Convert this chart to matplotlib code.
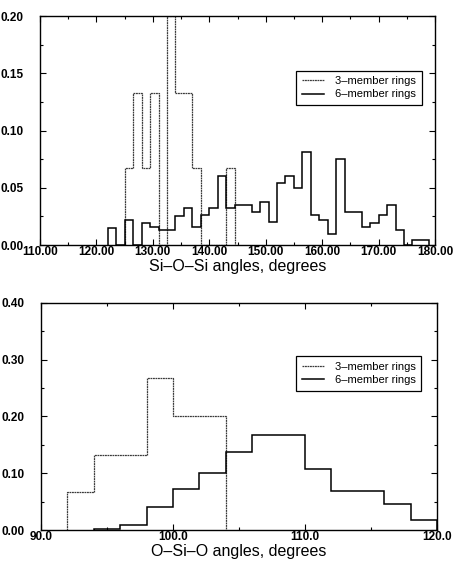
import numpy as np
import matplotlib
matplotlib.use("Agg")
import matplotlib.pyplot as plt
from matplotlib.ticker import MultipleLocator, FormatStrFormatter

plt.rcParams['font.family'] = ['Liberation Sans', 'DejaVu Sans']

# Si-O-Si angle histograms (bin width 1.5 deg)
sio_si_edges3 = np.arange(125.0, 144.5 + 0.01, 1.5)
sio_si_three = [0.067, 0.133, 0.067, 0.133, 0.0, 0.200, 0.133, 0.133, 0.067,
                0.0, 0.0, 0.0, 0.067]
sio_si_edges6 = np.arange(122.0, 179.0 + 0.01, 1.5)
sio_si_six = [0.015, 0.0, 0.022, 0.0, 0.019, 0.016, 0.013, 0.013, 0.025, 0.032,
              0.016, 0.026, 0.032, 0.060, 0.032, 0.035, 0.035, 0.029, 0.038,
              0.020, 0.054, 0.060, 0.050, 0.081, 0.026, 0.022, 0.010, 0.075,
              0.029, 0.029, 0.016, 0.019, 0.026, 0.035, 0.013, 0.0, 0.004, 0.004]

# O-Si-O angle histograms (bin width 2 deg)
osio_edges3 = np.arange(92.0, 104.0 + 0.01, 2.0)
osio_three = [0.067, 0.133, 0.133, 0.267, 0.200, 0.200]
osio_edges6 = np.arange(94.0, 120.0 + 0.01, 2.0)
osio_six = [0.002, 0.009, 0.040, 0.072, 0.101, 0.138, 0.167, 0.167, 0.108,
            0.069, 0.069, 0.046, 0.018]

labels = ["3\u2013member rings", "6\u2013member rings"]

fig = plt.figure(figsize=(4.53, 5.62), dpi=100)
ax1 = fig.add_axes([0.0883, 0.564, 0.872, 0.4075])
ax2 = fig.add_axes([0.0905, 0.0569, 0.874, 0.404])

style3 = dict(color='#3a3a3a', linewidth=0.9, linestyle=(0, (1.5, 0.5)))
style6 = dict(color='black', linewidth=1.1)


def setup(ax, xlim, ylim, xmaj, xmin, ymaj, ymin, xfmt, xlabel, legpos):
    ax.set_xlim(*xlim)
    ax.set_ylim(*ylim)
    ax.xaxis.set_major_locator(MultipleLocator(xmaj))
    ax.xaxis.set_minor_locator(MultipleLocator(xmin))
    ax.yaxis.set_major_locator(MultipleLocator(ymaj))
    ax.yaxis.set_minor_locator(MultipleLocator(ymin))
    ax.xaxis.set_major_formatter(FormatStrFormatter(xfmt))
    ax.yaxis.set_major_formatter(FormatStrFormatter('%.2f'))
    ax.tick_params(which='both', direction='in', top=True, right=True,
                   width=0.8)
    ax.tick_params(which='major', length=4)
    ax.tick_params(which='minor', length=2.5)
    ax.tick_params(axis='x', pad=1)
    ax.tick_params(axis='y', pad=12)
    for lab in ax.get_xticklabels() + ax.get_yticklabels():
        lab.set_fontsize(8.5)
        lab.set_fontweight('bold')
    for sp in ax.spines.values():
        sp.set_linewidth(1.0)
    ax.set_xlabel(xlabel, fontsize=11.5, labelpad=0.5)
    leg = ax.legend(labels, loc='upper right', bbox_to_anchor=legpos,
                    fontsize=8, fancybox=False, framealpha=1,
                    edgecolor='black', handlelength=2.0, handletextpad=1.0,
                    borderpad=0.5, labelspacing=0.3)
    leg.get_frame().set_linewidth(0.9)


ax1.stairs(sio_si_three, sio_si_edges3, baseline=0, **style3)
ax1.stairs(sio_si_six, sio_si_edges6, baseline=0, **style6)
setup(ax1, (110, 180), (0, 0.20), 10, 5, 0.05, 0.025, '%.2f',
      "Si\u2013O\u2013Si angles, degrees", (0.98, 0.786))

ax2.stairs(osio_three, osio_edges3, baseline=0, **style3)
ax2.stairs(osio_six, osio_edges6, baseline=0, **style6)
setup(ax2, (90, 120), (0, 0.40), 10, 5, 0.10, 0.05, '%.1f',
      "O\u2013Si\u2013O angles, degrees", (0.975, 0.789))

fig.savefig("out.png", dpi=100)
